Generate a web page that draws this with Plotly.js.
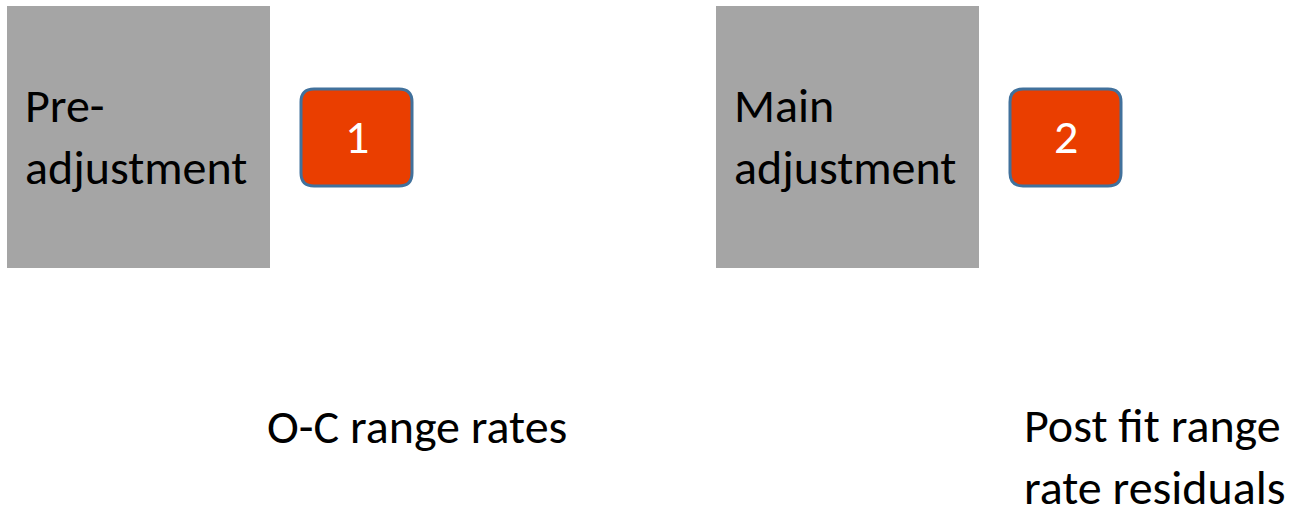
<!DOCTYPE html>
<html>
<head>
<meta charset="utf-8">
<script src="https://cdn.plot.ly/plotly-3.0.1.min.js"></script>
<style>html,body{margin:0;padding:0;background:#fff;}#chart{width:1292px;height:508px;}</style>
</head>
<body>
<div id="chart"></div>
<script>
// Diagram content
const stageLabels = ["Pre-<br>adjustment", "Main<br>adjustment"];
const stepNumbers = ["1", "2"];
const outputLabels = ["O-C range rates", "Post fit range<br>rate residuals"];

// Layout (pixel-like data coordinates)
const stageX = [7, 716];          // left edge of grey boxes
const boxW = 263, boxTop = 6, boxBottom = 268;
const badgeX = [301, 1010];       // left edge of red badges
const badgeW = 111, badgeTop = 89, badgeBottom = 186, r = 13;
const outX = [417, 1155];
const outY = [426, 456];

const FONT = "Carlito, Calibri, Lato, 'Liberation Sans', sans-serif";

function roundRect(x0, y0, x1, y1, rr) {
  return `M ${x0+rr},${y0} L ${x1-rr},${y0} Q ${x1},${y0} ${x1},${y0+rr} L ${x1},${y1-rr} Q ${x1},${y1} ${x1-rr},${y1} L ${x0+rr},${y1} Q ${x0},${y1} ${x0},${y1-rr} L ${x0},${y0+rr} Q ${x0},${y0} ${x0+rr},${y0} Z`;
}

const shapes = [];
const annotations = [];
stageLabels.forEach((lab, i) => {
  shapes.push({type: 'rect', xref: 'x', yref: 'y', x0: stageX[i], x1: stageX[i] + boxW,
    y0: boxTop, y1: boxBottom, fillcolor: '#a5a5a5', line: {width: 0}, layer: 'below'});
  annotations.push({xref: 'x', yref: 'y', x: stageX[i] + 16, y: 136, xanchor: 'left', yanchor: 'middle',
    text: lab, showarrow: false, align: 'left', font: {family: FONT, size: 48, color: '#000'}});
  const bx0 = badgeX[i], bx1 = badgeX[i] + badgeW;
  shapes.push({type: 'path', xref: 'x', yref: 'y', path: roundRect(bx0, badgeTop, bx1, badgeBottom, r),
    fillcolor: '#ea3e00', line: {color: '#41719c', width: 3}});
  annotations.push({xref: 'x', yref: 'y', x: (bx0 + bx1) / 2, y: (badgeTop + badgeBottom) / 2 - 1,
    xanchor: 'center', yanchor: 'middle', text: stepNumbers[i], showarrow: false,
    font: {family: FONT, size: 48, color: '#ffffff'}});
  annotations.push({xref: 'x', yref: 'y', x: outX[i], y: outY[i], xanchor: 'center', yanchor: 'middle',
    text: outputLabels[i], showarrow: false, align: 'left', font: {family: FONT, size: 48, color: '#000'}});
});

const layout = {
  width: 1292, height: 508,
  margin: {l: 0, r: 0, t: 0, b: 0},
  paper_bgcolor: '#ffffff', plot_bgcolor: '#ffffff',
  xaxis: {range: [0, 1292], visible: false, fixedrange: true},
  yaxis: {range: [508, 0], visible: false, fixedrange: true},
  showlegend: false,
  shapes: shapes,
  annotations: annotations
};

Plotly.newPlot('chart', [], layout, {staticPlot: true, displayModeBar: false});
</script>
</body>
</html>
